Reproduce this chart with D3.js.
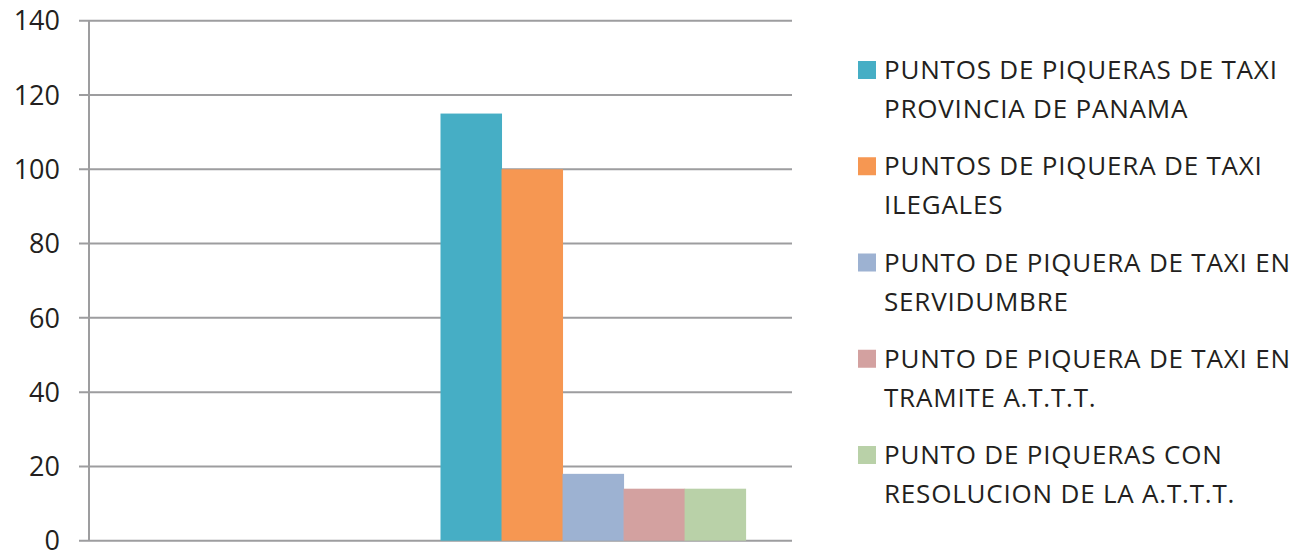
<!DOCTYPE html>
<html>
<head>
<meta charset="utf-8">
<script src="https://d3js.org/d3.v7.min.js"></script>
<style>
  body { margin: 0; background: #fff; }
  text { font-family: "Open Sans", sans-serif; fill: #231f20; }
</style>
</head>
<body>
<svg id="chart" width="1304" height="554"></svg>
<script>
// data
var categories = ["", "Piqueras"];
var seriesNames = [
  ["PUNTOS DE PIQUERAS DE TAXI", "PROVINCIA DE PANAMA"],
  ["PUNTOS DE PIQUERA DE TAXI", "ILEGALES"],
  ["PUNTO DE PIQUERA DE TAXI EN", "SERVIDUMBRE"],
  ["PUNTO DE PIQUERA DE TAXI EN", "TRAMITE A.T.T.T."],
  ["PUNTO DE PIQUERAS CON", "RESOLUCION DE LA A.T.T.T."]
];
var seriesValues = [115, 100, 18, 14, 14];
var seriesColors = ["#46aec5", "#f69752", "#9db2d2", "#d3a1a0", "#b9d1a8"];
var yTicks = [0, 20, 40, 60, 80, 100, 120, 140];

function drawChart() {
  var svg = d3.select("#chart");
  var pLeft = 89, pRight = 792, pTop = 20.7, pBottom = 540.7;

  var y = d3.scaleLinear().domain([0, 140]).range([pBottom, pTop]);
  var x0 = d3.scaleBand().domain(categories).range([pLeft, pRight]);
  var x1 = d3.scaleBand().domain(d3.range(seriesValues.length))
    .range([0, x0.bandwidth() * 0.868]);

  // gridlines
  svg.append("g").selectAll("line").data(yTicks).enter().append("line")
    .attr("x1", pLeft - 10).attr("x2", pRight)
    .attr("y1", d => y(d)).attr("y2", d => y(d))
    .attr("stroke", "#9d9d9f").attr("stroke-width", 2);

  // y axis line
  svg.append("line")
    .attr("x1", pLeft).attr("x2", pLeft).attr("y1", pTop).attr("y2", pBottom)
    .attr("stroke", "#9d9d9f").attr("stroke-width", 2);

  // tick labels
  svg.append("g").selectAll("text").data(yTicks).enter().append("text")
    .attr("x", 60).attr("y", d => y(d)).attr("dy", "0.36em")
    .attr("text-anchor", "end").style("font-size", "27px")
    .text(d => d);

  // bars
  svg.append("g").selectAll("rect").data(seriesValues).enter().append("rect")
    .attr("x", (d, i) => x0("Piqueras") + x1(i))
    .attr("width", x1.bandwidth() + 0.5)
    .attr("y", d => y(d))
    .attr("height", d => y(0) - y(d))
    .attr("fill", (d, i) => seriesColors[i]);

  // legend
  var leg = svg.append("g").selectAll("g").data(seriesNames).enter().append("g")
    .attr("transform", (d, i) => "translate(858," + (79 + i * 96.25) + ")");
  leg.append("rect").attr("x", 0).attr("y", -18).attr("width", 18).attr("height", 18)
    .attr("fill", (d, i) => seriesColors[i]);
  leg.append("text").attr("x", 26).attr("y", 0)
    .style("font-size", "26px").style("letter-spacing", "0.8px")
    .selectAll("tspan").data(d => d).enter().append("tspan")
    .attr("x", 26).attr("dy", (d, j) => j === 0 ? 0 : 39).text(d => d);
}
drawChart();
</script>
</body>
</html>
